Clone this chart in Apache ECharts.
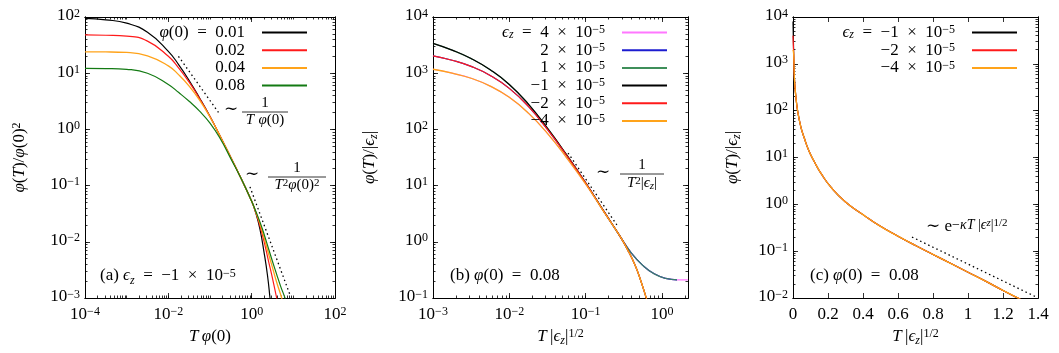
<!DOCTYPE html>
<html>
<head>
<meta charset="utf-8">
<script src="https://cdn.jsdelivr.net/npm/echarts@6/dist/echarts.min.js"></script>
<style>
  html, body { margin: 0; padding: 0; background: #fff; }
  #chart { width: 1059px; height: 353px; }
</style>
</head>
<body>
<div id="chart"></div>
<script>
// ---- data ----
// (a) phi(T)/phi(0)^2 against T phi(0), eps_z = -1e-5
const aX = [1e-4,3.16e-4,1e-3,3.16e-3,0.01,0.0178,0.0316,0.0562,0.1,0.178,0.316,0.562,1];
const aY001 = [94.4,89.1,77.6,53.7,24.5,14.1,7.41,3.63,1.70,0.741,0.316,0.132,0.0525];
const aY002 = [47.9,47.3,45.7,37.2,20.0,12.3,6.92,3.55,1.70,0.741,0.316,0.132,0.0525];
const aY004 = [24.0,23.9,23.4,20.4,13.5,9.33,5.89,3.31,1.66,0.741,0.316,0.132,0.0525];
const aY008 = [12.2,12.1,11.7,10.0,6.31,4.52,3.16,2.11,1.29,0.676,0.302,0.132,0.0525];
// tails beyond T phi(0) = 1
const aTail001 = [[1.259,0.0324],[1.585,0.0166],[1.995,0.00631],[2.399,0.00251],[2.754,0.001],[3.02,0.000501]];
const aTail002 = [[1.259,0.0331],[1.585,0.0191],[1.995,0.01],[2.512,0.00468],[3.162,0.00224],[3.981,0.001],[4.467,0.000631]];
const aTail004 = [[1.259,0.0339],[1.585,0.0209],[1.995,0.0117],[2.512,0.00631],[3.162,0.00347],[3.981,0.00191],[5.248,0.001],[6.026,0.000631]];
const aTail008 = [[1.259,0.0347],[1.585,0.0224],[1.995,0.0135],[2.512,0.00776],[3.162,0.00447],[3.981,0.00263],[5.012,0.00158],[6.31,0.001],[7.24,0.000708]];
const aSlope1 = [[0.0175,20.0],[0.16,2.0]];
const aSlope2 = [[0.91,0.095],[8.3,0.00114]];

// (b) phi(T)/|eps_z| against T|eps_z|^1/2, phi(0) = 0.08
const bX = [0.001,0.00178,0.00316,0.00562,0.01,0.0178,0.0316,0.0562,0.1,0.178,0.282];
const bY1 = [3390,2570,1820,1150,631,282,105,35.5,11.2,3.31,1.26];   // |eps| = 1e-5
const bY2 = [2040,1700,1320,912,537,257,100,34.7,11.2,3.31,1.26];    // |eps| = 2e-5
const bY4 = [1175,1000,813,589,372,195,85.1,31.6,10.7,3.24,1.26];    // |eps| = 4e-5
const bXpos = [0.398,0.562,0.794,1.12,1.58,2.19];
const bYpos = [0.631,0.380,0.269,0.224,0.211,0.211];
const bXneg = [0.355,0.447,0.525,0.631];
const bYneg = [0.724,0.380,0.209,0.0955];
const bSlope = [[0.0589,38.0],[0.257,2.0]];

// (c) same quantity, linear abscissa
const cX = [0.004,0.008,0.015,0.027,0.045,0.065,0.09,0.122,0.16,0.218,0.3,0.4,0.5,0.6,0.7,0.8,0.9,1.0,1.1,1.2,1.3];
const cY = [1580,490,224,95.5,44.7,25.7,14.1,8.13,4.57,2.29,1.12,0.603,0.339,0.209,0.132,0.0851,0.0550,0.0355,0.0229,0.0145,0.00933];
const cY0 = [8000,4000,2000];   // value at T = 0 for eps = -1,-2,-4 e-5
const cSlope = [[0.68,0.20],[1.39,0.0105]];

// ticks
const aXMajor = [1e-4,1e-2,1,100];
const aYMajor = [1e-3,1e-2,1e-1,1,10,100];
const bXMajor = [1e-3,1e-2,1e-1,1];
const bYMajor = [1e-1,1,10,100,1e3,1e4];
const cXMajor = [0,0.2,0.4,0.6,0.8,1,1.2,1.4];
const cYMajor = [1e-2,1e-1,1,10,100,1e3,1e4];

const FONT = "'Liberation Serif','DejaVu Serif',serif";

function mkRich(fs, L) {
  const sm = Math.round(fs * 0.7);
  const base = {fontFamily: FONT, fontSize: fs, lineHeight: L, verticalAlign: 'top', color: '#000'};
  return {
    n: base,
    i: Object.assign({}, base, {fontStyle: 'italic'}),
    s: {fontFamily: FONT, fontSize: sm, lineHeight: Math.round(L * 0.45), verticalAlign: 'top', color: '#000'},
    b: {fontFamily: FONT, fontSize: sm, fontStyle: 'italic', lineHeight: Math.round(L * 0.5), verticalAlign: 'bottom', color: '#000'},
    g: {width: 12}
  };
}
const RICH = mkRich(17, 19);
const RLEG = mkRich(17, 16);
const RFRAC = mkRich(15, 16);

function zip(xs, ys) { return xs.map((x, k) => [x, ys[k]]); }
function minorsOf(d0, d1) {
  const out = [];
  for (let e = d0; e <= d1; e++) for (let k = 1; k <= 9; k++) out.push(k * Math.pow(10, e));
  return out;
}
function sup(e) { return e < 0 ? '\u2212' + (-e) : '' + e; }
const logFmt = v => '{n|10}{s|' + sup(Math.round(Math.log10(v))) + '}';
const linFmt = v => '{n|' + (Math.round(v * 10) / 10) + '}';

// 4 axes per grid and dim: bottom/left major+minor, top/right major+minor
function axisSet(dim, g, type, min, max, majors, minors, fmt, name, nameGap) {
  const sides = dim === 'x' ? ['bottom', 'top'] : ['left', 'right'];
  const out = [];
  sides.forEach((pos, k) => {
    [[majors, 5], [minors, 2.5]].forEach(([vals, len], m) => {
      const main = k === 0 && m === 0;
      out.push({
        type: type, gridIndex: g, position: pos, min: min, max: max, logBase: 10,
        axisLine: {show: true, onZero: false, lineStyle: {color: '#000', width: 1}},
        axisTick: {show: vals.length > 0, inside: true, length: len, customValues: vals,
                   lineStyle: {color: '#000', width: 0.8}},
        axisLabel: main ? {show: true, customValues: majors, formatter: fmt,
                           margin: dim === 'x' ? 8 : 5, rich: RICH} : {show: false},
        splitLine: {show: false},
        name: main ? name : '',
        nameLocation: 'middle', nameGap: nameGap,
        nameRotate: dim === 'y' ? 90 : 0,
        nameTextStyle: {rich: RICH}
      });
    });
  });
  return out;
}

const xAxes = [].concat(
  axisSet('x', 0, 'log', 1e-4, 100, aXMajor, minorsOf(-4, 1), logFmt, '{i|T} {i|φ}{n|(0)}', 22),
  axisSet('x', 1, 'log', 1e-3, 2.2, bXMajor, minorsOf(-3, 0), logFmt, '{i|T} {n||}{i|ϵ}{b|z}{n||}{s|1/2}', 22),
  axisSet('x', 2, 'value', 0, 1.4, cXMajor, [], linFmt, '{i|T} {n||}{i|ϵ}{b|z}{n||}{s|1/2}', 22)
);
const yAxes = [].concat(
  axisSet('y', 0, 'log', 1e-3, 100, aYMajor, minorsOf(-3, 1), logFmt, '{i|φ}{n|(}{i|T}{n|)/}{i|φ}{n|(0)}{s|2}', 55),
  axisSet('y', 1, 'log', 0.1, 1e4, bYMajor, minorsOf(-1, 3), logFmt, '{i|φ}{n|(}{i|T}{n|)/|}{i|ϵ}{b|z}{n||}', 53),
  axisSet('y', 2, 'log', 0.01, 1e4, cYMajor, minorsOf(-2, 3), logFmt, '{i|φ}{n|(}{i|T}{n|)/|}{i|ϵ}{b|z}{n||}', 50)
);

function line(name, pts, color, g, w, extra) {
  return Object.assign({
    type: 'line', name: name, data: pts, xAxisIndex: 4 * g, yAxisIndex: 4 * g,
    symbol: 'none', showSymbol: false, smooth: 0.5, clip: true,
    silent: true, animation: false,
    lineStyle: {color: color, width: w}, itemStyle: {color: color}
  }, extra || {});
}
const dotted = (name, pts, g) => line(name, pts, '#000', g, 1.3,
  {smooth: false, lineStyle: {color: '#000', width: 1.3, type: [1.5, 3]}});

const C = {black: '#000000', red: '#ff1a1a', orange: '#ffa31a', greenA: '#137a13',
           pink: '#ff77ff', blue: '#1c1cd0', greenB: '#3f8f5a'};

const bLeft1 = zip(bX, bY1), bLeft2 = zip(bX, bY2), bLeft4 = zip(bX, bY4);
const bPos = zip(bXpos, bYpos), bNeg = zip(bXneg, bYneg);
const cTail = zip(cX, cY);

const series = [
  line('a01', zip(aX, aY001).concat(aTail001), C.black, 0, 1.2),
  line('a02', zip(aX, aY002).concat(aTail002), C.red, 0, 1.2),
  line('a04', zip(aX, aY004).concat(aTail004), C.orange, 0, 1.3),
  line('a08', zip(aX, aY008).concat(aTail008), C.greenA, 0, 1.2),
  dotted('da1', aSlope1, 0),
  dotted('da2', aSlope2, 0),

  line('b+4', bLeft4.concat(bPos), C.pink, 1, 1.2),
  line('b+2', bLeft2.concat(bPos.slice(0, -1)), C.blue, 1, 1.2),
  line('b+1', bLeft1.concat(bPos.slice(0, -1)), C.greenB, 1, 1.3, {lineStyle: {color: C.greenB, width: 1.3, opacity: 0.85}}),
  line('b-1', bLeft1.concat(bNeg), C.black, 1, 1.2),
  line('b-2', bLeft2.concat(bNeg), C.red, 1, 1.2),
  line('b-4', bLeft4.concat(bNeg), C.orange, 1, 1.3),
  dotted('db', bSlope, 1),

  line('c-1', [[0, cY0[0]]].concat(cTail), C.black, 2, 1.2),
  line('c-2', [[0, cY0[1]]].concat(cTail), C.red, 2, 1.2),
  line('c-4', [[0, cY0[2]]].concat(cTail), C.orange, 2, 1.3),
  dotted('dc', cSlope, 2)
];

const LEG = {
  'a01': '{i|φ}{n|(0)  =  0.01}{g| }', 'a02': '{n|0.02}{g| }', 'a04': '{n|0.04}{g| }', 'a08': '{n|0.08}{g| }',
  'b+4': '{i|ϵ}{b|z}{n|  =  4  ×  10}{s|−5}{g| }', 'b+2': '{n|2  ×  10}{s|−5}{g| }', 'b+1': '{n|1  ×  10}{s|−5}{g| }',
  'b-1': '{n|−1  ×  10}{s|−5}{g| }', 'b-2': '{n|−2  ×  10}{s|−5}{g| }', 'b-4': '{n|−4  ×  10}{s|−5}{g| }',
  'c-1': '{i|ϵ}{b|z}{n|  =  −1  ×  10}{s|−5}{g| }', 'c-2': '{n|−2  ×  10}{s|−5}{g| }', 'c-4': '{n|−4  ×  10}{s|−5}{g| }'
};
function legend(names, right) {
  return {
    data: names, orient: 'vertical', right: right, top: 24, padding: 0,
    align: 'right', icon: 'rect', itemWidth: 45, itemHeight: 2, itemGap: 0.7,
    selectedMode: false, formatter: n => LEG[n],
    textStyle: {rich: RLEG, fontFamily: FONT, fontSize: 17, color: '#000'}
  };
}

function txt(x, y, text, rich, align, va) {
  return {type: 'text', x: x, y: y, silent: true,
          style: {text: text, rich: rich, align: align || 'left', verticalAlign: va || 'middle',
                  fill: '#000', font: '17px ' + FONT}};
}
function bar(x1, x2, y) {
  return {type: 'line', silent: true, shape: {x1: x1, y1: y, x2: x2, y2: y},
          style: {stroke: '#000', lineWidth: 0.8}};
}
const RC = {
  m: {fontFamily: FONT, fontSize: 17, lineHeight: 30, verticalAlign: 'top', color: '#000'},
  p: {fontFamily: FONT, fontSize: 14, lineHeight: 14, verticalAlign: 'top', color: '#000'},
  pi: {fontFamily: FONT, fontSize: 14, fontStyle: 'italic', lineHeight: 14, verticalAlign: 'top', color: '#000'},
  q: {fontFamily: FONT, fontSize: 11, fontStyle: 'italic', lineHeight: 20, verticalAlign: 'top', color: '#000'},
  r: {fontFamily: FONT, fontSize: 11, lineHeight: 5, verticalAlign: 'top', color: '#000'}
};

const graphic = [
  txt(100, 277, '{n|(a) }{i|ϵ}{b|z}{n|  =  −1  ×  10}{s|−5}', RICH),
  txt(450, 277, '{n|(b) }{i|φ}{n|(0)  =  0.08}', RICH),
  txt(810, 277, '{n|(c) }{i|φ}{n|(0)  =  0.08}', RICH),

  txt(231, 111, '{n|∼}', RICH, 'center'),
  txt(265, 104, '{n|1}', RFRAC, 'center'),
  bar(242, 288, 112),
  txt(265, 121, '{i|T} {i|φ}{n|(0)}', RFRAC, 'center'),

  txt(252, 176, '{n|∼}', RICH, 'center'),
  txt(297, 169, '{n|1}', RFRAC, 'center'),
  bar(268, 326, 177),
  txt(297, 186, '{i|T}{s|2}{i|φ}{n|(0)}{s|2}', RFRAC, 'center'),

  txt(603, 174, '{n|∼}', RICH, 'center'),
  txt(642, 166, '{n|1}', RFRAC, 'center'),
  bar(620, 664, 174),
  txt(642, 184, '{i|T}{s|2}{n||}{i|ϵ}{b|z}{n||}', RFRAC, 'center'),

  txt(926, 218, '{m|∼ e}{p|−}{pi|κT }{p||}{pi|ϵ}{q|z}{p||}{r|1/2}', RC, 'left', 'top')
];

const chart = echarts.init(document.getElementById('chart'), null, {renderer: 'canvas'});
chart.setOption({
  animation: false,
  backgroundColor: '#fff',
  grid: [
    {left: 85, top: 17, width: 250, height: 281, containLabel: false},
    {left: 433, top: 17, width: 255, height: 281, containLabel: false},
    {left: 793, top: 17, width: 245, height: 281, containLabel: false}
  ],
  xAxis: xAxes,
  yAxis: yAxes,
  legend: [
    legend(['a01', 'a02', 'a04', 'a08'], 752),
    legend(['b+4', 'b+2', 'b+1', 'b-1', 'b-2', 'b-4'], 392),
    legend(['c-1', 'c-2', 'c-4'], 42)
  ],
  series: series,
  graphic: graphic
});
</script>
</body>
</html>
